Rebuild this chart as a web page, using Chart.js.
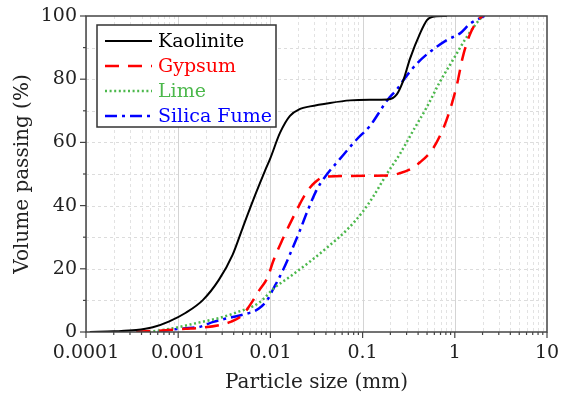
<!DOCTYPE html>
<html>
<head>
<meta charset="utf-8">
<script src="https://cdn.jsdelivr.net/npm/chart.js@4.4.0/dist/chart.umd.min.js"></script>
<style>
  html, body { margin: 0; padding: 0; background: #fff; }
</style>
</head>
<body>
<canvas id="psd" width="561" height="396"></canvas>
<script>
// Particle size (mm) vs volume passing (%)
const kaoliniteX = [0.00011, 0.0002, 0.00035, 0.00053, 0.00079, 0.00121, 0.00185, 0.00276, 0.0039, 0.00505, 0.00698, 0.00873, 0.0099, 0.0127, 0.0163, 0.021, 0.0269, 0.0443, 0.073, 0.12, 0.188, 0.236, 0.274, 0.327, 0.42, 0.499, 0.566, 0.82];
const kaoliniteY = [0, 0.2, 0.6, 1.5, 3.3, 6.1, 10.1, 16.5, 24.5, 33.3, 44, 51, 54.7, 63, 68.4, 70.6, 71.4, 72.5, 73.3, 73.5, 73.6, 75.3, 79.3, 86.5, 94.5, 98.7, 99.7, 100];

const gypsumX = [0.00035, 0.0005, 0.00079, 0.0012, 0.0017, 0.0028, 0.0037, 0.005, 0.006, 0.0075, 0.0094, 0.0106, 0.0134, 0.0171, 0.0249, 0.0303, 0.0389, 0.197, 0.256, 0.327, 0.42, 0.578, 0.74, 0.88, 1.05, 1.22, 1.45, 1.78, 2.0];
const gypsumY = [0.1, 0.3, 0.6, 1.0, 1.3, 2.2, 3.2, 5.4, 8.5, 13, 17.5, 22, 29, 35.5, 44.4, 47.3, 49.2, 49.5, 50.3, 51.5, 53.7, 58, 64, 70, 78, 87, 94, 98.7, 100];

const limeX = [0.00048, 0.00088, 0.00156, 0.00276, 0.0045, 0.0075, 0.011, 0.0163, 0.0269, 0.0443, 0.0675, 0.1, 0.13, 0.183, 0.256, 0.35, 0.5, 0.69, 0.95, 1.35, 1.7, 2.0];
const limeY = [0, 1.2, 2.8, 4.4, 6.4, 9.2, 13.9, 17.5, 22.3, 27.5, 32.3, 38, 42.8, 50, 56.5, 63.5, 71.3, 79.2, 86, 93.4, 97.5, 100];

const silicaX = [0.0006, 0.0007, 0.0013, 0.0017, 0.0024, 0.0036, 0.0052, 0.0064, 0.0075, 0.0092, 0.0106, 0.0137, 0.0171, 0.021, 0.0255, 0.0318, 0.0389, 0.0565, 0.0867, 0.12, 0.188, 0.236, 0.29, 0.39, 0.54, 0.82, 1.14, 1.46, 2.1];
const silicaY = [0, 0.4, 1.3, 1.6, 3.2, 4.5, 5.6, 6.4, 7.4, 10, 13.3, 19.6, 26, 32.3, 38.6, 45, 49, 54.7, 61, 65.2, 73.6, 76.8, 80.5, 85, 88.7, 92.4, 94.5, 97.5, 100];

const seriesNames = ['Kaolinite', 'Gypsum', 'Lime', 'Silica Fume'];
const xTicks = [0.0001, 0.001, 0.01, 0.1, 1, 10];
const xTickLabels = ['0.0001', '0.001', '0.01', '0.1', '1', '10'];
const yTicks = [0, 20, 40, 60, 80, 100];

const FONT = 'DejaVu Serif';
Chart.defaults.font.family = FONT;
Chart.defaults.color = '#222';

function pairs(xs, ys) {
  return xs.map((x, i) => ({ x: x, y: ys[i] }));
}

// grid lines, frame and tick marks drawn from the scales
const frameGrid = {
  id: 'frameGrid',
  beforeDatasetsDraw(chart) {
    const { ctx, chartArea: a, scales: { x, y } } = chart;
    ctx.save();
    ctx.lineWidth = 1;
    ctx.strokeStyle = '#dcdcdc';
    ctx.setLineDash([3, 3]);
    for (let v = 10; v < 100; v += 10) {
      const py = Math.round(y.getPixelForValue(v)) + 0.5;
      ctx.beginPath(); ctx.moveTo(a.left, py); ctx.lineTo(a.right, py); ctx.stroke();
    }
    for (let i = 0; i < xTicks.length - 1; i++) {
      for (let m = 1; m <= 9; m++) {
        const px = Math.round(x.getPixelForValue(xTicks[i] * m)) + 0.5;
        if (m === 1) { ctx.setLineDash([]); ctx.strokeStyle = '#d4d4d4'; }
        else { ctx.setLineDash([3, 3]); ctx.strokeStyle = '#e2e2e2'; }
        ctx.beginPath(); ctx.moveTo(px, a.top); ctx.lineTo(px, a.bottom); ctx.stroke();
      }
    }
    ctx.restore();
  },
  afterDatasetsDraw(chart) {
    const { ctx, chartArea: a, scales: { x, y } } = chart;
    ctx.save();
    ctx.strokeStyle = '#444';
    ctx.lineWidth = 1.5;
    ctx.strokeRect(a.left, a.top, a.width, a.height);
    ctx.lineWidth = 1.2;
    for (let v = 0; v <= 100; v += 10) {
      const py = y.getPixelForValue(v);
      const len = v % 20 === 0 ? 6 : 3;
      ctx.beginPath(); ctx.moveTo(a.left, py); ctx.lineTo(a.left - len, py); ctx.stroke();
    }
    for (let i = 0; i < xTicks.length; i++) {
      for (let m = 1; m <= 9; m++) {
        if (i === xTicks.length - 1 && m > 1) break;
        const px = x.getPixelForValue(xTicks[i] * m);
        const len = m === 1 ? 6 : 3;
        ctx.beginPath(); ctx.moveTo(px, a.bottom); ctx.lineTo(px, a.bottom + len); ctx.stroke();
      }
    }
    ctx.restore();
  }
};

// boxed legend inside the plot, top left
const boxLegend = {
  id: 'boxLegend',
  afterDraw(chart) {
    const { ctx } = chart;
    const bx = 97, by = 25, bw = 179, bh = 102;
    ctx.save();
    ctx.fillStyle = '#fff';
    ctx.fillRect(bx, by, bw, bh);
    ctx.strokeStyle = '#333';
    ctx.lineWidth = 1.5;
    ctx.strokeRect(bx, by, bw, bh);
    chart.data.datasets.forEach((ds, i) => {
      const cy = by + 16 + i * 25;
      ctx.strokeStyle = ds.borderColor;
      ctx.lineWidth = ds.borderWidth;
      ctx.setLineDash(ds.borderDash || []);
      ctx.beginPath(); ctx.moveTo(bx + 8, cy); ctx.lineTo(bx + 55, cy); ctx.stroke();
      ctx.setLineDash([]);
      ctx.fillStyle = ds.borderColor;
      ctx.font = '19px "' + FONT + '"';
      ctx.textBaseline = 'middle';
      ctx.fillText(ds.label, bx + 61, cy + 1);
    });
    ctx.restore();
  }
};

new Chart(document.getElementById('psd'), {
  type: 'line',
  data: {
    datasets: [
      { label: seriesNames[0], data: pairs(kaoliniteX, kaoliniteY), borderColor: '#000000', borderWidth: 2 },
      { label: seriesNames[1], data: pairs(gypsumX, gypsumY), borderColor: '#ff0000', borderWidth: 2.5, borderDash: [14, 9] },
      { label: seriesNames[2], data: pairs(limeX, limeY), borderColor: '#4cb84c', borderWidth: 2.5, borderDash: [2, 2.6] },
      { label: seriesNames[3], data: pairs(silicaX, silicaY), borderColor: '#0000ff', borderWidth: 2.5, borderDash: [12, 5, 3, 5] }
    ]
  },
  options: {
    responsive: false,
    animation: false,
    elements: { point: { radius: 0 }, line: { cubicInterpolationMode: 'monotone' } },
    layout: { padding: { top: 16, right: 14, left: 0, bottom: 0 } },
    plugins: { legend: { display: false }, tooltip: { enabled: false } },
    scales: {
      x: {
        type: 'logarithmic',
        min: 0.0001,
        max: 10,
        grid: { display: false, drawTicks: false },
        border: { display: false },
        afterBuildTicks: s => { s.ticks = xTicks.map(v => ({ value: v })); },
        afterFit: s => { s.height = 64; s.paddingLeft = 0; s.paddingRight = 0; },
        ticks: { autoSkip: false, maxRotation: 0, padding: 10, font: { size: 19 }, callback: (v, i) => xTickLabels[i] },
        title: { display: true, text: 'Particle size (mm)', font: { size: 20 }, padding: { top: 0, bottom: 1 } }
      },
      y: {
        min: 0,
        max: 100,
        grid: { display: false, drawTicks: false },
        border: { display: false },
        afterBuildTicks: s => { s.ticks = yTicks.map(v => ({ value: v })); },
        afterFit: s => { s.width = 86; s.paddingTop = 0; s.paddingBottom = 0; },
        ticks: { padding: 9, font: { size: 19 } },
        title: { display: true, text: 'Volume passing (%)', font: { size: 20 }, padding: { top: 11, bottom: 0 } }
      }
    }
  },
  plugins: [frameGrid, boxLegend]
});
</script>
</body>
</html>
